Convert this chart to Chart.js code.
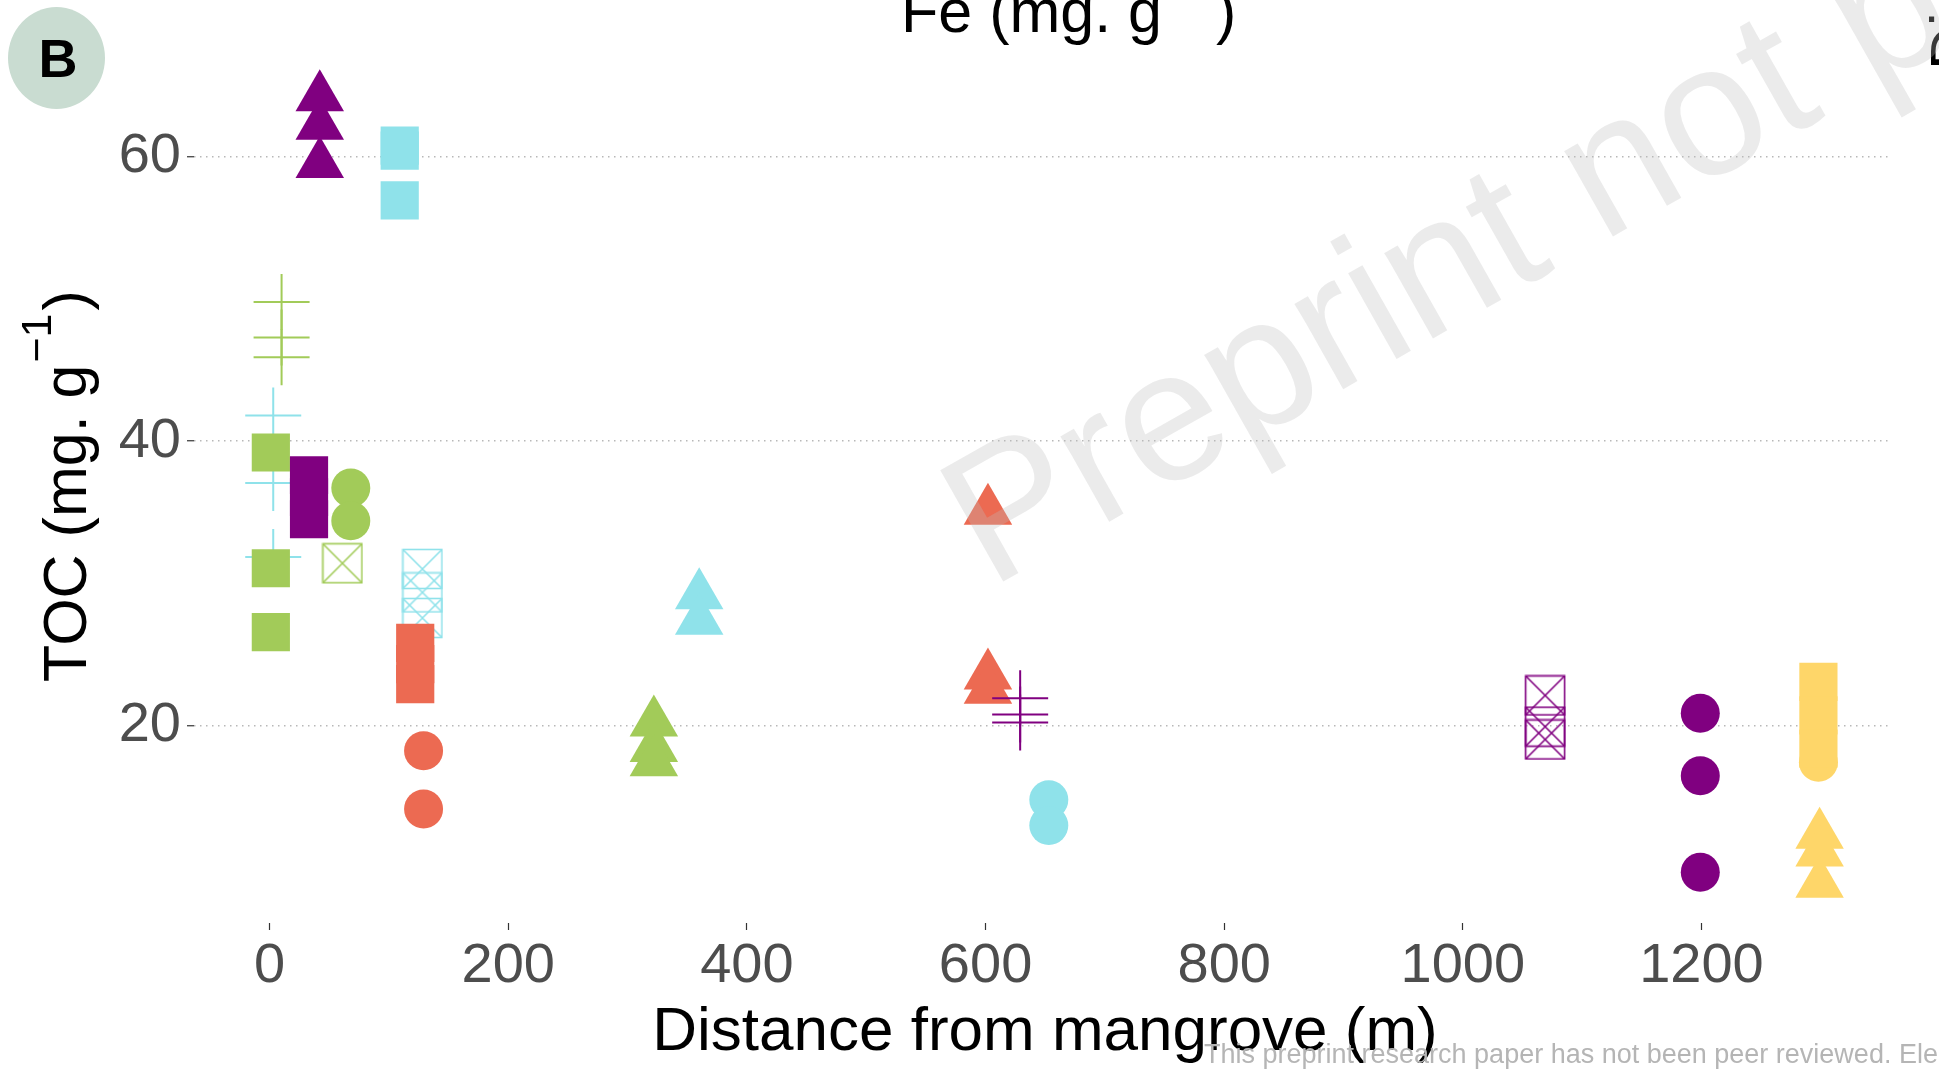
<!DOCTYPE html>
<html>
<head>
<meta charset="utf-8">
<script src="https://cdn.jsdelivr.net/npm/chart.js@4.4.0/dist/chart.umd.min.js"></script>
<style>
  html, body { margin: 0; padding: 0; background: #fff; overflow: hidden; }
  #wrap { position: relative; width: 1939px; height: 1070px; }
</style>
</head>
<body>
<div id="wrap"><canvas id="chart" width="1939" height="1070"></canvas></div>
<script>
const FONT = "'Liberation Sans', Arial, sans-serif";

// axis ticks
const xTicks = [0, 200, 400, 600, 800, 1000, 1200];
const yTicks = [20, 40, 60];

// distance from mangrove (m) / TOC (mg g-1)
const purpleTriDist = 42,    purpleTriToc = [64.2, 62.2, 59.5];
const cyanSqDist = 109,      cyanSqToc = [60.8, 60.45, 56.95];
const greenPlusDist = 10,    greenPlusToc = [49.8, 47.3, 45.9];
const cyanPlusDist = 3,      cyanPlusToc = [41.8, 37.05, 31.85];
const greenSqDist = 1,       greenSqToc = [39.2, 31.05, 26.55];
const purpleSqDist = 33,     purpleSqToc = [37.6, 36.05, 34.5];
const greenCircDist = 68,    greenCircToc = [36.7, 34.4];
const greenBoxDist = 61,     greenBoxToc = [31.4];
const cyanBoxDist = 128,     cyanBoxToc = [31.0, 29.35, 27.55];
const redSqDist = 122,       redSqToc = [25.8, 24.3, 22.9];
const redCircDist = 129,     redCircToc = [18.2, 14.1];
const greenTriDist = 322,    greenTriToc = [20.2, 18.4, 17.4];
const cyanTriDist = 360,     cyanTriToc = [29.15, 27.35];
const redTriDist = 602,      redTriToc = [35.1, 23.5, 22.5];
const purplePlusDist = 629,  purplePlusToc = [21.9, 20.75, 20.2];
const cyanCircDist = 653,    cyanCircToc = [14.75, 12.95];
const purpleBoxDist = 1069,  purpleBoxToc = [22.1, 19.9, 19.0];
const purpleCircDist = 1199, purpleCircToc = [20.85, 16.45, 9.65];
const yellowSqDist = 1298,   yellowSqToc = [23.05, 20.7, 18.35];
const yellowCircDist = 1298, yellowCircToc = [17.4];
const yellowTriDist = 1299,  yellowTriToc = [12.3, 11.05, 8.85];

const COL = {
  purple: "#800080",
  cyan: "#8FE2EA",
  green: "#A2CB59",
  red: "#EC6A52",
  yellow: "#FED669",
};

// square with an X inside (R pch 7)
function boxCross(color) {
  const c = document.createElement("canvas");
  c.width = 42; c.height = 42;
  const g = c.getContext("2d");
  g.strokeStyle = color;
  g.lineWidth = 1.6;
  g.strokeRect(1.5, 1.5, 39, 39);
  g.beginPath();
  g.moveTo(1.5, 1.5); g.lineTo(40.5, 40.5);
  g.moveTo(40.5, 1.5); g.lineTo(1.5, 40.5);
  g.stroke();
  return c;
}

// drawing order: first = bottom
const series = [
  [cyanPlusDist, cyanPlusToc, COL.cyan, "cross"],
  [greenPlusDist, greenPlusToc, COL.green, "cross"],
  [greenSqDist, greenSqToc, COL.green, "rect"],
  [purpleSqDist, purpleSqToc, COL.purple, "rect"],
  [greenBoxDist, greenBoxToc, COL.green, "box"],
  [greenCircDist, greenCircToc, COL.green, "circle"],
  [cyanBoxDist, cyanBoxToc, COL.cyan, "box"],
  [redSqDist, redSqToc, COL.red, "rect"],
  [redCircDist, redCircToc, COL.red, "circle"],
  [purpleTriDist, purpleTriToc, COL.purple, "triangle"],
  [cyanSqDist, cyanSqToc, COL.cyan, "rect"],
  [greenTriDist, greenTriToc, COL.green, "triangle"],
  [cyanTriDist, cyanTriToc, COL.cyan, "triangle"],
  [redTriDist, redTriToc, COL.red, "triangle"],
  [purplePlusDist, purplePlusToc, COL.purple, "cross"],
  [cyanCircDist, cyanCircToc, COL.cyan, "circle"],
  [purpleBoxDist, purpleBoxToc, COL.purple, "box"],
  [purpleCircDist, purpleCircToc, COL.purple, "circle"],
  [yellowCircDist, yellowCircToc, COL.yellow, "circle"],
  [yellowSqDist, yellowSqToc, COL.yellow, "rect"],
  [yellowTriDist, yellowTriToc, COL.yellow, "triangle"],
];

const RADIUS = { circle: 19.5, rect: 27, triangle: 28, cross: 28, box: 20 };

const datasets = series.map(([dist, toc, color, shape], i) => ({
  data: toc.map(v => ({ x: dist, y: v })),
  pointStyle: shape === "box" ? boxCross(color) : shape,
  pointRadius: RADIUS[shape],
  backgroundColor: color,
  borderColor: color,
  borderWidth: shape === "cross" ? 2 : 0,
  order: series.length - i,
}));

// titles, panel label and watermark
const decor = {
  id: "decor",
  afterDraw(chart) {
    const ctx = chart.ctx;
    ctx.save();
    ctx.textBaseline = "alphabetic";
    ctx.textAlign = "left";
    ctx.fillStyle = "#000";

    // x title
    ctx.font = `62px ${FONT}`;
    ctx.textAlign = "center";
    const a = chart.chartArea;
    ctx.fillText("Distance from mangrove (m)", (a.left + a.right) / 2 + 3, 1050);
    ctx.textAlign = "left";

    // title with superscript, horizontal or rotated
    const withSup = (x, y, rot, main) => {
      ctx.save();
      ctx.translate(x, y);
      ctx.rotate(rot);
      ctx.font = `61px ${FONT}`;
      ctx.fillText(main, 0, 0);
      let w = ctx.measureText(main).width + 2;
      ctx.font = `43px ${FONT}`;
      ctx.fillText("\u22121", w, -35);
      w += ctx.measureText("\u22121").width + 3;
      ctx.font = `61px ${FONT}`;
      ctx.fillText(")", w, 0);
      ctx.restore();
    };
    withSup(86, 682, -Math.PI / 2, "TOC (mg. g");
    withSup(901, 32, 0, "Fe (mg. g");

    // cut text at right edge
    ctx.save();
    ctx.translate(1973, 70);
    ctx.rotate(-Math.PI / 2);
    ctx.font = `61px ${FONT}`;
    ctx.fillText("Di", 0, 0);
    ctx.restore();

    // panel label
    ctx.fillStyle = "#C9DCD1";
    ctx.beginPath();
    ctx.ellipse(56.5, 58, 48.5, 51, 0, 0, Math.PI * 2);
    ctx.fill();
    ctx.fillStyle = "#000";
    ctx.font = `bold 54px ${FONT}`;
    ctx.textAlign = "center";
    ctx.fillText("B", 58, 77);
    ctx.textAlign = "left";

    // watermark
    ctx.save();
    ctx.translate(990, 589);
    ctx.rotate(-29.5 * Math.PI / 180);
    ctx.font = `186px ${FONT}`;
    ctx.fillStyle = "rgba(190,190,190,0.3)";
    ctx.fillText("Preprint not peer reviewed", 0, 0);
    ctx.restore();

    // footer
    ctx.font = `27px ${FONT}`;
    ctx.fillStyle = "#b5b5b5";
    ctx.fillText("This preprint research paper has not been peer reviewed. Electronic copy available at", 1204, 1063);
    ctx.restore();
  },
};

new Chart(document.getElementById("chart"), {
  type: "scatter",
  data: { datasets },
  plugins: [decor],
  options: {
    responsive: false,
    animation: false,
    events: [],
    layout: { padding: { top: 58, right: 49, left: 0, bottom: 0 } },
    plugins: { legend: { display: false }, tooltip: { enabled: false } },
    scales: {
      x: {
        type: "linear",
        min: -63.4,
        max: 1358,
        afterBuildTicks: s => { s.ticks = xTicks.map(v => ({ value: v })); },
        afterFit: s => { s.height = 147; },
        border: { display: false },
        grid: { drawOnChartArea: false, tickLength: 7, tickColor: "#333333", tickWidth: 1.2 },
        ticks: {
          autoSkip: false, maxRotation: 0, padding: 3,
          color: "#4d4d4d", font: { family: FONT, size: 56 },
          callback: v => String(v),
        },
      },
      y: {
        type: "linear",
        min: 6.08,
        max: 66.97,
        afterBuildTicks: s => { s.ticks = yTicks.map(v => ({ value: v })); },
        afterFit: s => { s.width = 194; },
        border: { display: false, dash: [1.5, 4.5] },
        grid: { color: "#b8b8b8", lineWidth: 1.5, tickLength: 7, tickColor: "#333333", tickWidth: 1.2 },
        ticks: {
          padding: 6,
          color: "#4d4d4d", font: { family: FONT, size: 56 },
          callback: v => String(v),
        },
      },
    },
  },
});
</script>
</body>
</html>
